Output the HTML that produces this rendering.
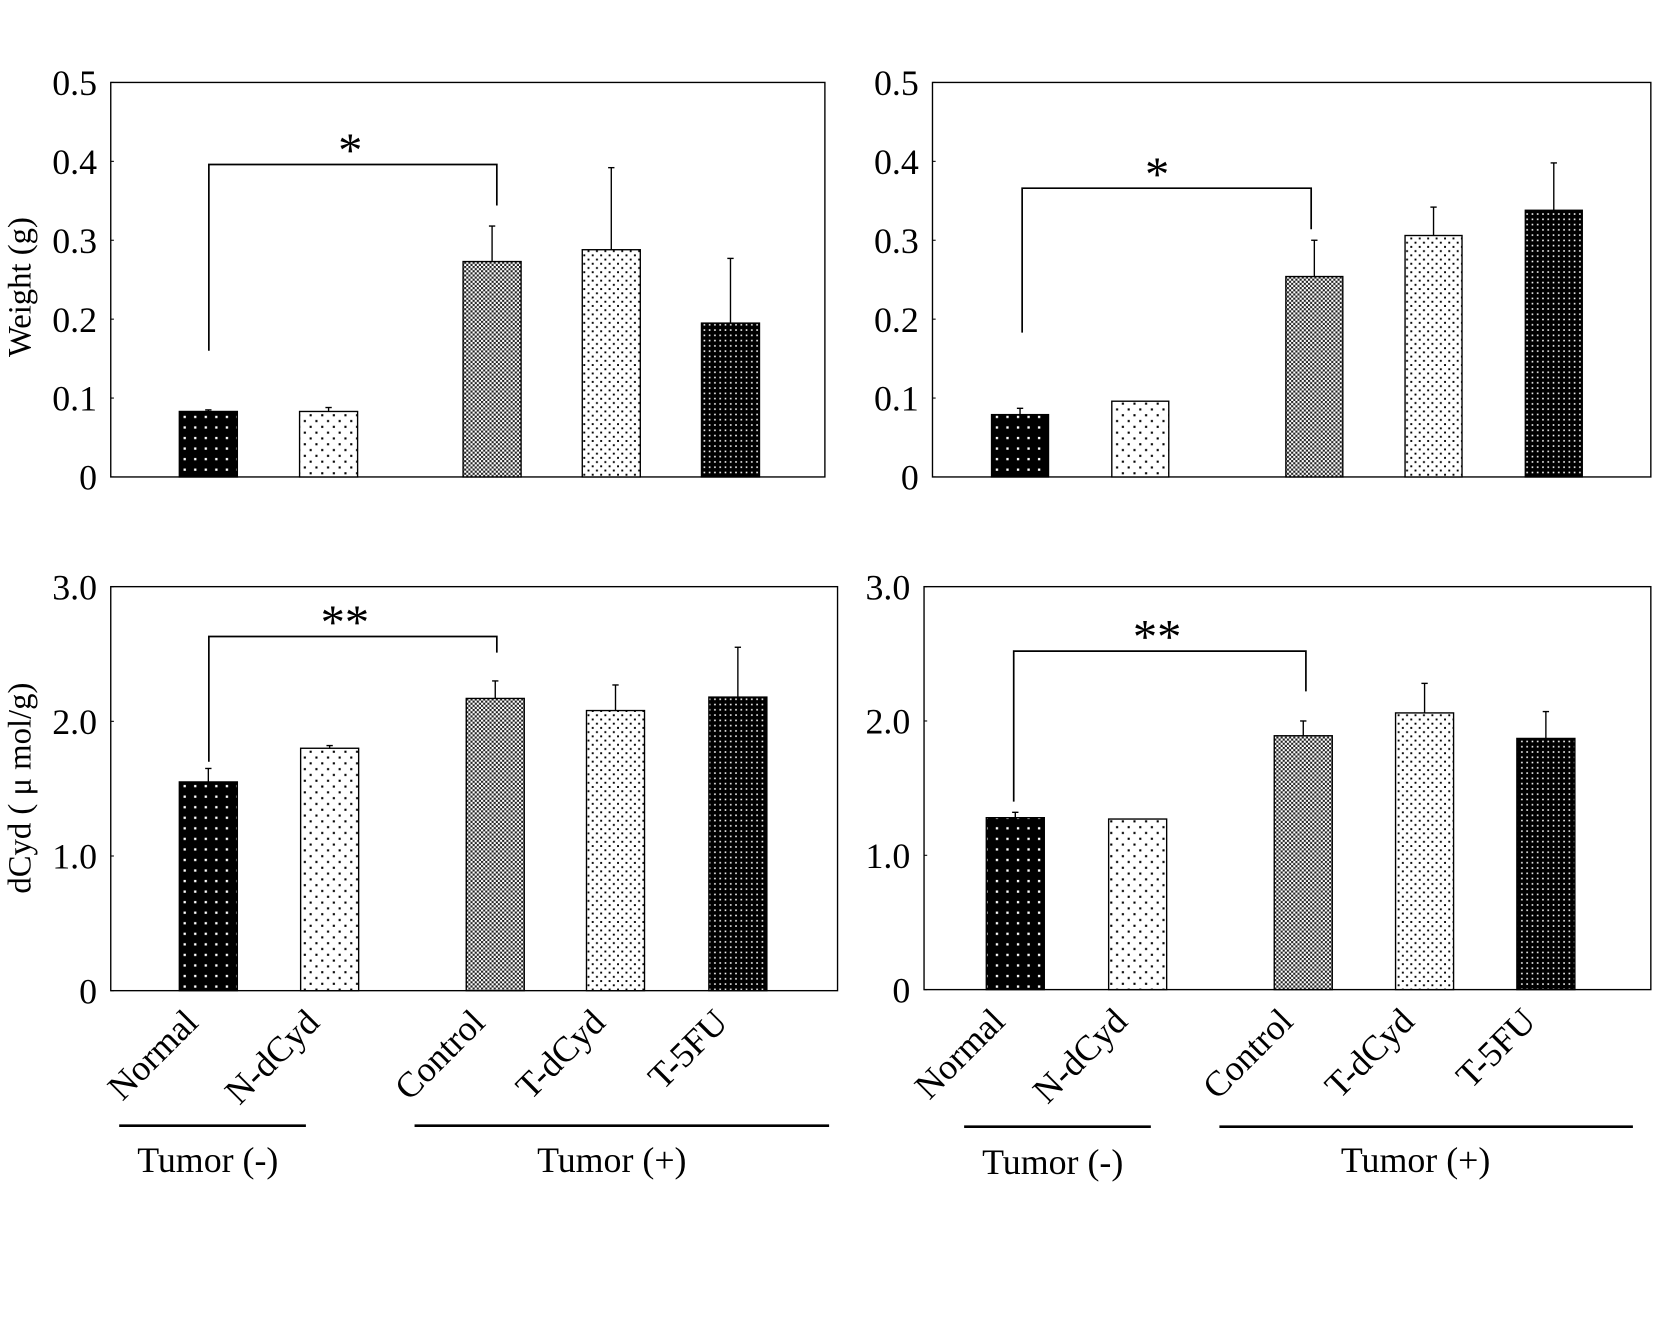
<!DOCTYPE html>
<html><head><meta charset="utf-8"><style>
html,body{margin:0;padding:0;background:#fff}
svg{display:block}
text{font-family:"Liberation Serif",serif;fill:#000}
</style></head><body>
<svg id="fig" width="1654" height="1321" viewBox="0 0 1568 1252" xmlns="http://www.w3.org/2000/svg">
<defs>
<pattern id="pNormal" width="10" height="10" patternUnits="userSpaceOnUse"><rect width="10" height="10" fill="#000"/><rect x="4" y="4" width="2.2" height="2.2" fill="#fff"/></pattern>
<pattern id="pNd" width="11" height="11" patternUnits="userSpaceOnUse"><rect width="11" height="11" fill="#fff"/><rect x="2" y="2" width="2" height="2" fill="#000"/><rect x="7.5" y="7.5" width="2" height="2" fill="#000"/></pattern>
<pattern id="pCtrl" width="4" height="4" patternUnits="userSpaceOnUse"><rect width="4" height="4" fill="#fff"/><rect x="0" y="0" width="2" height="2" fill="#222"/><rect x="2" y="2" width="2" height="2" fill="#222"/></pattern>
<pattern id="pTd" width="8" height="8" patternUnits="userSpaceOnUse"><rect width="8" height="8" fill="#fff"/><rect x="1" y="1" width="1.8" height="1.8" fill="#000"/><rect x="5" y="5" width="1.8" height="1.8" fill="#000"/></pattern>
<pattern id="pT5" width="5" height="5" patternUnits="userSpaceOnUse"><rect width="5" height="5" fill="#000"/><rect x="2" y="2" width="1.5" height="1.5" fill="#fff"/></pattern>
</defs>
<g id="root"></g>
</svg>
<script>
const categories = ["Normal","N-dCyd","Control","T-dCyd","T-5FU"];
const weightA = [0.083,0.083,0.273,0.288,0.195];
const weightAErr = [0.085,0.088,0.318,0.392,0.277];
const weightB = [0.079,0.096,0.254,0.306,0.338];
const weightBErr = [0.087,0.096,0.300,0.342,0.398];
const dcydA = [1.55,1.80,2.17,2.08,2.18];
const dcydAErr = [1.65,1.82,2.30,2.27,2.55];
const dcydB = [1.28,1.27,1.89,2.06,1.87];
const dcydBErr = [1.32,1.27,2.00,2.28,2.07];
const weightTicks = ["0","0.1","0.2","0.3","0.4","0.5"];
const dcydTicks = ["0","1.0","2.0","3.0"];
const patterns = ["pNormal","pNd","pCtrl","pTd","pT5"];

const NS="http://www.w3.org/2000/svg";
const root=document.getElementById('root');
function mk(tag,attrs,parent){const e=document.createElementNS(NS,tag);for(const k in attrs)e.setAttribute(k,attrs[k]);(parent||root).appendChild(e);return e;}

const panels=[
 {name:'weight-left',x0:105,x1:782,y0:78,y1:452,max:0.5,ticks:weightTicks,vals:weightA,errs:weightAErr,
  bx:[170,284,439,552,665],bw:55,br:{y:0.396,l:0.16,r:0.344,xl:198,xr:471,star:'*',sx:332}},
 {name:'weight-right',x0:884,x1:1565,y0:78,y1:452,max:0.5,ticks:weightTicks,vals:weightB,errs:weightBErr,
  bx:[940,1054,1219,1332,1446],bw:54,br:{y:0.366,l:0.183,r:0.314,xl:969,xr:1243,star:'*',sx:1097}},
 {name:'dcyd-left',x0:105,x1:794,y0:556,y1:939,max:3,ticks:dcydTicks,vals:dcydA,errs:dcydAErr,
  bx:[170,285,442,556,672],bw:55,br:{y:2.63,l:1.70,r:2.51,xl:198,xr:471,star:'**',sx:327}},
 {name:'dcyd-right',x0:876,x1:1565,y0:556,y1:938,max:3,ticks:dcydTicks,vals:dcydB,errs:dcydBErr,
  bx:[935,1051,1208,1323,1438],bw:55,br:{y:2.52,l:1.40,r:2.22,xl:961,xr:1238,star:'**',sx:1097}}
];

panels.forEach((p,pi)=>{
 const g=mk('g',{});
 
 
 const ys=v=>p.y1-(v/p.max)*(p.y1-p.y0);
 const box=mk('rect',{x:p.x0,y:p.y0,width:p.x1-p.x0,height:p.y1-p.y0,fill:'none',stroke:'#000','stroke-width':1.3},g);
 
 
 p.ticks.forEach(t=>{
  const v=parseFloat(t);const y=ys(v);
  const tl=mk('text',{x:p.x0-13,y:y+12,'text-anchor':'end','font-size':34},g);
  tl.textContent=t;
  
  
  mk('line',{x1:p.x0,x2:p.x0+3,y1:y,y2:y,stroke:'#000','stroke-width':1},g);
 });
 p.vals.forEach((v,i)=>{
  const x=p.bx[i],y=ys(v),cx=x+p.bw/2,ye=ys(p.errs[i]);
  if(p.errs[i]>v){
   const el=mk('line',{x1:cx,x2:cx,y1:y,y2:ye,stroke:'#000','stroke-width':1.3},g);
   
   
   mk('line',{x1:cx-3,x2:cx+3,y1:ye,y2:ye,stroke:'#000','stroke-width':1.3},g);
  }
  const r=mk('rect',{x:x,y:y,width:p.bw,height:p.y1-y,fill:'url(#'+patterns[i]+')',stroke:'#000','stroke-width':1.3},g);
  
  
 });
 const b=p.br;
 const br=mk('polyline',{points:`${b.xl},${ys(b.l)} ${b.xl},${ys(b.y)} ${b.xr},${ys(b.y)} ${b.xr},${ys(b.r)}`,fill:'none',stroke:'#000','stroke-width':1.6},g);
 
 
 const st=mk('text',{x:b.sx,y:ys(b.y)+2,'text-anchor':'middle','font-size':46},g);
 st.textContent=b.star;
 
 
 if(pi>=2){
  p.bx.forEach((x,i)=>{
   const cx=x+p.bw/2-8,cy=p.y1+32;
   const t=mk('text',{x:cx,y:cy,'text-anchor':'end','font-size':34,transform:`rotate(-45 ${cx} ${cy})`},g);
   t.textContent=categories[i];
   
   
  });
 }
});

function label(txt,x,y,size,name,rot){
 const t=mk('text',{x:x,y:y,'text-anchor':'middle','font-size':size});
 if(rot)t.setAttribute('transform',`rotate(-90 ${x} ${y})`);
 t.textContent=txt;
 
 
}
label('Weight (g)',29,272,31,'y-axis-title-weight',true);
label('dCyd ( μ mol/g)',29,747,31,'y-axis-title-dcyd',true);
[[113,290,1067],[393,786,1067],[914,1091,1068],[1156,1548,1068]].forEach(l=>{
 const e=mk('line',{x1:l[0],x2:l[1],y1:l[2],y2:l[2],stroke:'#000','stroke-width':2.5});
 
 
});
label('Tumor (-)',197,1111,34,'group-label-tumor-neg');
label('Tumor (+)',580,1111,34,'group-label-tumor-pos');
label('Tumor (-)',998,1113,34,'group-label-tumor-neg');
label('Tumor (+)',1342,1111,34,'group-label-tumor-pos');
</script>
</body></html>
